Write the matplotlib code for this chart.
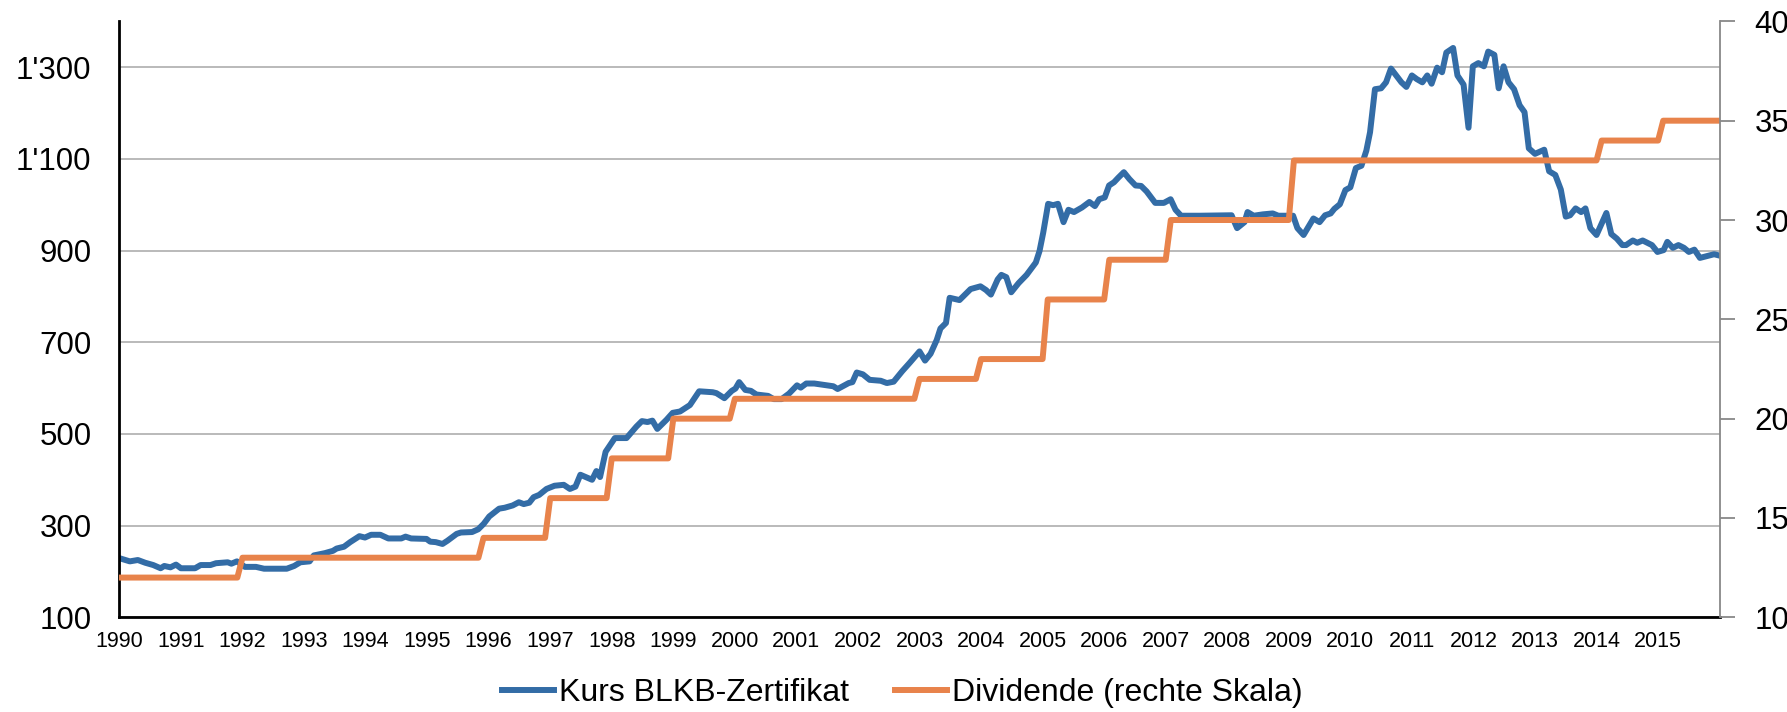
import matplotlib.pyplot as plt
import numpy as np
from matplotlib.ticker import FuncFormatter, MultipleLocator

plt.rcParams['font.family'] = ['Liberation Sans', 'DejaVu Sans']

# Kurs BLKB-Zertifikat (date as decimal year)
kurs_datum = [
    1990.0, 1990.17, 1990.3, 1990.42, 1990.55, 1990.67, 1990.73, 1990.83, 1990.92, 1991.0,
    1991.23, 1991.32, 1991.48, 1991.57, 1991.76, 1991.82, 1991.91, 1992.04, 1992.22, 1992.35,
    1992.72, 1992.84, 1992.94, 1993.09, 1993.16, 1993.34, 1993.47, 1993.53, 1993.65, 1993.75,
    1993.9, 1993.99, 1994.09, 1994.24, 1994.37, 1994.58, 1994.65, 1994.74, 1994.99, 1995.05,
    1995.14, 1995.25, 1995.33, 1995.48, 1995.55, 1995.73, 1995.83, 1995.92, 1996.01, 1996.17,
    1996.26, 1996.39, 1996.49, 1996.57, 1996.66, 1996.73, 1996.82, 1996.94, 1997.07, 1997.22,
    1997.32, 1997.41, 1997.49, 1997.68, 1997.75, 1997.81, 1997.9, 1998.05, 1998.24, 1998.4,
    1998.49, 1998.58, 1998.66, 1998.74, 1998.89, 1998.99, 1999.11, 1999.27, 1999.42, 1999.64,
    1999.7, 1999.83, 1999.95, 2000.01, 2000.07, 2000.17, 2000.26, 2000.35, 2000.54, 2000.63,
    2000.76, 2000.88, 2001.01, 2001.07, 2001.16, 2001.29, 2001.6, 2001.67, 2001.85, 2001.91,
    2001.98, 2002.08, 2002.19, 2002.37, 2002.47, 2002.58, 2002.72, 2002.84, 2003.0, 2003.09,
    2003.18, 2003.28, 2003.34, 2003.43, 2003.49, 2003.65, 2003.83, 2003.99, 2004.08, 2004.16,
    2004.27, 2004.33, 2004.41, 2004.49, 2004.61, 2004.74, 2004.89, 2004.95, 2005.01, 2005.09,
    2005.17, 2005.25, 2005.34, 2005.42, 2005.51, 2005.64, 2005.76, 2005.85, 2005.92, 2006.01,
    2006.08, 2006.16, 2006.23, 2006.32, 2006.41, 2006.51, 2006.6, 2006.69, 2006.83, 2006.97,
    2007.08, 2007.16, 2007.25, 2007.55, 2008.07, 2008.16, 2008.28, 2008.33, 2008.43, 2008.58,
    2008.74, 2008.83, 2008.98, 2009.07, 2009.14, 2009.24, 2009.4, 2009.5, 2009.59, 2009.68,
    2009.74, 2009.83, 2009.92, 2010.0, 2010.09, 2010.18, 2010.26, 2010.32, 2010.4, 2010.5,
    2010.58, 2010.66, 2010.83, 2010.91, 2011.0, 2011.08, 2011.17, 2011.25, 2011.32, 2011.41,
    2011.49, 2011.56, 2011.67, 2011.74, 2011.84, 2011.92, 2011.99, 2012.08, 2012.17, 2012.24,
    2012.34, 2012.41, 2012.49, 2012.57, 2012.66, 2012.75, 2012.83, 2012.9, 2013.0, 2013.15,
    2013.23, 2013.33, 2013.42, 2013.5, 2013.57, 2013.66, 2013.75, 2013.82, 2013.9, 2014.0,
    2014.16, 2014.24, 2014.33, 2014.42, 2014.48, 2014.59, 2014.66, 2014.75, 2014.9, 2014.99,
    2015.09, 2015.15, 2015.24, 2015.33, 2015.42, 2015.5, 2015.59, 2015.68, 2015.82, 2015.91,
    2016.0,
]
kurs_wert = [
    229, 222, 225, 219, 214, 207, 212, 209, 215, 207,
    207, 214, 214, 218, 220, 217, 222, 210, 210, 206,
    206, 212, 220, 222, 235, 240, 245, 250, 254, 264,
    277, 274, 280, 280, 272, 272, 276, 272, 271, 265,
    264, 260, 267, 282, 285, 286, 292, 304, 320, 337,
    339, 344, 351, 347, 350, 362, 367, 380, 387, 389,
    380, 385, 411, 400, 419, 406, 461, 491, 491, 516,
    528, 526, 529, 511, 531, 546, 549, 563, 593, 591,
    589, 578, 594, 599, 613, 596, 594, 586, 583, 576,
    576, 588, 606, 601, 610, 610, 604, 598, 611, 613,
    634, 630, 618, 616, 611, 614, 637, 655, 680, 660,
    675, 705, 730, 742, 797, 792, 816, 822, 814, 804,
    837, 847, 842, 809, 829, 847, 874, 899, 939, 1002,
    999, 1002, 962, 989, 984, 994, 1006, 997, 1012, 1016,
    1042, 1049, 1059, 1071, 1056, 1042, 1041, 1029, 1004, 1004,
    1012, 989, 976, 976, 977, 949, 962, 984, 976, 979,
    981, 976, 976, 976, 949, 934, 970, 962, 977, 981,
    991, 1001, 1032, 1038, 1080, 1085, 1118, 1158, 1252, 1254,
    1267, 1297, 1267, 1257, 1282, 1274, 1267, 1282, 1264, 1299,
    1289, 1332, 1342, 1282, 1262, 1168, 1302, 1309, 1302, 1334,
    1327, 1254, 1302, 1267, 1252, 1217, 1202, 1123, 1111, 1120,
    1073, 1065, 1033, 974, 977, 992, 984, 992, 949, 934,
    982, 936, 926, 912, 912, 922, 917, 922, 912, 897,
    901, 919, 906, 912, 906, 897, 902, 884, 889, 892,
    889,
]

# Dividende: month index (0 = Jan 1990) where each new amount starts
div_start_monat = [0, 24, 71, 84, 96, 108, 120, 156, 168, 181, 193, 205, 229, 289, 301]
div_betrag = [12, 13, 14, 16, 18, 20, 21, 22, 23, 26, 28, 30, 33, 34, 35]
n_monate = 313

monate = np.arange(n_monate)
div_monat = np.array(div_betrag)[np.searchsorted(div_start_monat, monate, side='right') - 1]
div_datum = 1990 + monate / 12

jahre = list(range(1990, 2016))

blau = '#336ca6'
orange = '#e8834b'

fig = plt.figure(figsize=(17.87, 7.12), dpi=100)
ax = fig.add_axes([0.0668, 0.133, 0.8955, 0.837])
ax2 = ax.twinx()

l1, = ax.plot(kurs_datum, kurs_wert, color=blau, lw=4.3, solid_joinstyle='round',
              label='Kurs BLKB-Zertifikat')
l2, = ax2.plot(div_datum, div_monat, color=orange, lw=4.3, solid_joinstyle='round',
               label='Dividende (rechte Skala)')

ax.set_xlim(1990, 2016)
ax.set_ylim(100, 1400)
ax2.set_ylim(10, 40)

ax.set_yticks(range(100, 1301, 200))
ax.yaxis.set_major_formatter(FuncFormatter(lambda v, p: f"{int(v):,}".replace(",", "'")))
ax.grid(axis='y', color='#b4b4b4', lw=1.3)
ax.set_axisbelow(True)
ax.set_xticks(jahre)
ax.set_xticklabels([str(j) for j in jahre])

ax.tick_params(axis='y', length=0, labelsize=22.5, pad=20)
ax.tick_params(axis='x', length=0, labelsize=15.5, pad=10)
ax2.yaxis.set_major_locator(MultipleLocator(5))
ax2.tick_params(axis='y', length=11, width=1.3, color='#888888', labelsize=22.5, pad=14)

for a in (ax, ax2):
    a.spines['top'].set_visible(False)
ax.spines['left'].set_linewidth(2)
ax.spines['bottom'].set_linewidth(2)
ax.spines['right'].set_visible(False)
ax2.spines['left'].set_visible(False)
ax2.spines['bottom'].set_visible(False)
ax2.spines['right'].set_color('#888888')
ax2.spines['right'].set_linewidth(1.3)

fig.legend(handles=[l1, l2], loc='center', bbox_to_anchor=(0.505, 0.027), ncol=2,
           frameon=False, fontsize=23, handlelength=1.63, handletextpad=0.15,
           columnspacing=1.45)

fig.savefig('out.png', dpi=100)
